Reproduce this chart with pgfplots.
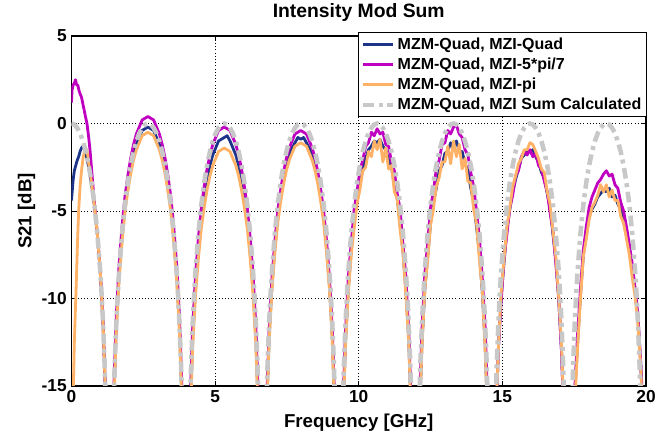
\documentclass[border=0pt]{standalone}
\usepackage{pgfplots}
\pgfplotsset{compat=1.18}
\usepackage{fontspec}
\setmainfont{Liberation Sans}
\definecolor{cnavy}{RGB}{28,52,138}
\definecolor{cmag}{RGB}{192,0,192}
\definecolor{corange}{RGB}{255,178,102}
\definecolor{cgray}{RGB}{200,200,200}
\begin{document}
\begin{tikzpicture}
\begin{axis}[
  scale only axis, width=430.9pt, height=262.5pt,
  xmin=0, xmax=20, ymin=-15, ymax=5,
  xtick={0,5,10,15,20}, ytick={-15,-10,-5,0,5},
  grid=major, grid style={black, dotted, line width=0.6pt},
  tick align=inside, major tick length=4pt,
  axis line style={black, line width=0.8pt},
  every tick/.style={black, line width=0.6pt},
  /pgf/number format/assume math mode=true,
  ticklabel style={font=\bfseries\fontsize{13}{13}\selectfont},
  xlabel={Frequency [GHz]}, ylabel={S21 [dB]},
  label style={font=\bfseries\fontsize{14}{15}\selectfont},
  xlabel style={at={(axis description cs:0.5,-0.12)}, anchor=base},
  ylabel style={at={(axis description cs:-0.078,0.5)}, anchor=center},
  title={Intensity Mod Sum},
  title style={font=\bfseries\fontsize{14.5}{15}\selectfont, at={(axis description cs:0.5,1.029)}, anchor=base},
  legend style={at={(1.002,1.011)}, anchor=north east, draw=black, line width=0.8pt, fill=white,
    font=\bfseries\fontsize{12}{13.5}\selectfont, row sep=0.8pt, inner sep=2pt},
  legend cell align=left,
  legend image code/.code={\draw[#1] (0pt,0pt) -- (22pt,0pt);},
]
\coordinate (sw) at (rel axis cs:0,0);
% MZM-Quad, MZI-Quad
\addplot[cnavy, line width=2.1pt, line join=round] coordinates {
(0,-4.4)(0.03,-3.8)(0.06,-3.2)(0.1,-2.7)(0.15,-2.4)(0.2,-2.1)(0.25,-1.9)(0.3,-1.6)(0.35,-1.4)(0.4,-1.3)(0.45,-1.4)(0.5,-1.7)(0.6,-2.5)(0.7,-3.5)(0.8,-4.7)(0.9,-6.3)(1.0,-8.4)(1.1,-11.4)(1.2,-16.3)(1.3,-29)
(1.36,-29)(1.46,-16.5)(1.56,-11.6)(1.66,-8.6)(1.76,-6.5)(1.86,-4.8)(1.96,-3.6)(2.06,-2.6)(2.16,-1.8)(2.26,-1.2)(2.36,-0.8)(2.46,-0.4)(2.56,-0.3)(2.66,-0.2)(2.76,-0.3)(2.86,-0.4)(2.96,-0.8)(3.06,-1.2)(3.16,-1.8)(3.26,-2.6)(3.36,-3.6)(3.46,-4.8)(3.56,-6.5)(3.66,-8.6)(3.76,-11.6)(3.86,-16.5)(3.96,-29)
(4.02,-29)(4.12,-17.1)(4.22,-12.2)(4.32,-9.2)(4.42,-7.1)(4.52,-5.4)(4.62,-4.2)(4.72,-3.2)(4.82,-2.4)(4.92,-1.8)(5.02,-1.4)(5.12,-1.0)(5.22,-0.9)(5.32,-0.8)(5.42,-0.7)(5.52,-1.0)(5.62,-1.4)(5.72,-1.8)(5.82,-2.4)(5.92,-3.2)(6.02,-4.2)(6.12,-5.4)(6.22,-7.1)(6.32,-9.2)(6.42,-12.2)(6.52,-17.1)(6.62,-29)
(6.68,-29)(6.78,-17.1)(6.88,-12.2)(6.98,-9.2)(7.08,-7.1)(7.18,-5.4)(7.28,-4.2)(7.38,-3.2)(7.48,-2.4)(7.58,-1.8)(7.68,-1.4)(7.78,-1.1)(7.88,-0.8)(7.98,-0.9)(8.08,-0.8)(8.18,-1.1)(8.28,-1.4)(8.38,-1.9)(8.48,-2.4)(8.58,-3.2)(8.68,-4.2)(8.78,-5.4)(8.88,-7.1)(8.98,-9.2)(9.08,-12.2)(9.18,-17.1)(9.28,-29)
(9.34,-29)(9.44,-17.3)(9.54,-12.4)(9.64,-9.4)(9.74,-7.2)(9.84,-5.5)(9.94,-4.5)(10.04,-3.3)(10.14,-2.7)(10.24,-2.0)(10.34,-1.5)(10.44,-1.3)(10.54,-1.0)(10.64,-1.1)(10.74,-0.9)(10.84,-1.3)(10.94,-1.5)(11.04,-2.1)(11.14,-2.5)(11.24,-3.5)(11.34,-4.3)(11.44,-5.7)(11.54,-7.3)(11.64,-9.5)(11.74,-12.3)(11.84,-17.3)(11.94,-29)
(12.00,-29)(12.10,-17.4)(12.20,-12.6)(12.30,-9.5)(12.40,-7.6)(12.50,-5.7)(12.60,-4.5)(12.70,-3.7)(12.80,-2.7)(12.90,-2.4)(13.00,-1.7)(13.10,-1.6)(13.20,-1.1)(13.30,-1.4)(13.40,-1.0)(13.50,-1.6)(13.60,-1.6)(13.70,-2.3)(13.80,-2.7)(13.90,-3.7)(14.00,-4.5)(14.10,-5.9)(14.20,-7.4)(14.30,-9.6)(14.40,-12.6)(14.50,-17.5)(14.60,-29)
(14.66,-29)(14.76,-17.8)(14.86,-12.9)(14.96,-9.9)(15.06,-7.9)(15.16,-6.0)(15.26,-4.9)(15.36,-3.9)(15.46,-3.2)(15.56,-2.6)(15.66,-2.0)(15.76,-1.8)(15.86,-1.6)(15.96,-1.6)(16.06,-1.5)(16.16,-1.9)(16.26,-2.2)(16.36,-2.8)(16.46,-3.1)(16.56,-4.0)(16.66,-4.8)(16.76,-6.3)(16.86,-7.8)(16.96,-10.0)(17.06,-13.0)(17.16,-17.8)(17.26,-29)
(17.32,-29)(17.42,-20)(17.52,-15.5)(17.62,-12.5)(17.72,-9.8)(17.82,-7.5)(17.92,-6.4)(18.02,-5.3)(18.12,-4.9)(18.22,-4.6)(18.32,-4.2)(18.42,-4.0)(18.52,-3.8)(18.62,-3.9)(18.72,-3.7)(18.82,-4.2)(18.92,-4.1)(19.02,-4.6)(19.12,-4.9)(19.22,-5.6)(19.32,-6.3)(19.42,-7.2)(19.52,-8.3)(19.62,-9.6)(19.72,-11.2)(19.82,-13.8)(19.87,-15.5)(19.92,-20)
};
\addlegendentry{MZM-Quad, MZI-Quad}
% MZM-Quad, MZI-5*pi/7
\addplot[cmag, line width=2.1pt, line join=round] coordinates {
(0,1.2)(0.02,1.9)(0.06,2.2)(0.1,2.3)(0.14,2.5)(0.18,2.2)(0.22,2.2)(0.26,1.9)(0.3,1.7)(0.35,1.5)(0.4,1.1)(0.45,0.7)(0.5,0.3)(0.54,0)(0.6,-0.8)(0.65,-1.6)(0.7,-2.6)(0.75,-3.6)(0.8,-4.6)(0.9,-6.3)(1.0,-8.4)(1.1,-11.4)(1.2,-16.3)(1.3,-29)
(1.36,-29)(1.46,-15.9)(1.56,-11.0)(1.66,-8.0)(1.76,-5.9)(1.86,-4.2)(1.96,-3.0)(2.06,-2.0)(2.16,-1.2)(2.26,-0.6)(2.36,-0.2)(2.46,0.2)(2.56,0.3)(2.66,0.4)(2.76,0.3)(2.86,0.2)(2.96,-0.2)(3.06,-0.6)(3.16,-1.2)(3.26,-2.0)(3.36,-3.0)(3.46,-4.2)(3.56,-5.9)(3.66,-8.0)(3.76,-11.0)(3.86,-15.9)(3.96,-29)
(4.02,-29)(4.12,-16.5)(4.22,-11.6)(4.32,-8.6)(4.42,-6.5)(4.52,-4.8)(4.62,-3.6)(4.72,-2.6)(4.82,-1.8)(4.92,-1.2)(5.02,-0.8)(5.12,-0.4)(5.22,-0.3)(5.32,-0.2)(5.42,-0.3)(5.52,-0.4)(5.62,-0.8)(5.72,-1.2)(5.82,-1.8)(5.92,-2.6)(6.02,-3.6)(6.12,-4.8)(6.22,-6.5)(6.32,-8.6)(6.42,-11.6)(6.52,-16.5)(6.62,-29)
(6.68,-29)(6.78,-16.7)(6.88,-11.8)(6.98,-8.8)(7.08,-6.7)(7.18,-5.0)(7.28,-3.8)(7.38,-2.8)(7.48,-2.0)(7.58,-1.4)(7.68,-1.0)(7.78,-0.6)(7.88,-0.5)(7.98,-0.4)(8.08,-0.5)(8.18,-0.6)(8.28,-1.0)(8.38,-1.4)(8.48,-2.0)(8.58,-2.8)(8.68,-3.8)(8.78,-5.0)(8.88,-6.7)(8.98,-8.8)(9.08,-11.8)(9.18,-16.7)(9.28,-29)
(9.34,-29)(9.44,-16.6)(9.54,-11.9)(9.64,-8.7)(9.74,-6.8)(9.84,-4.9)(9.94,-3.9)(10.04,-2.7)(10.14,-2.1)(10.24,-1.3)(10.34,-1.1)(10.44,-0.5)(10.54,-0.7)(10.64,-0.3)(10.74,-0.6)(10.84,-0.5)(10.94,-1.2)(11.04,-1.3)(11.14,-2.2)(11.24,-2.7)(11.34,-4.0)(11.44,-4.9)(11.54,-6.9)(11.64,-8.7)(11.74,-11.9)(11.84,-16.6)(11.94,-29)
(12.00,-29)(12.10,-16.6)(12.20,-11.8)(12.30,-8.6)(12.40,-6.8)(12.50,-4.8)(12.60,-3.9)(12.70,-2.6)(12.80,-2.1)(12.90,-1.2)(13.00,-1.1)(13.10,-0.4)(13.20,-0.6)(13.30,-0.2)(13.40,-0.1)(13.50,-0.6)(13.60,-0.8)(13.70,-1.5)(13.80,-1.8)(13.90,-2.8)(14.00,-3.6)(14.10,-5.0)(14.20,-6.5)(14.30,-8.8)(14.40,-11.6)(14.50,-16.7)(14.60,-29)
(14.66,-29)(14.76,-17.9)(14.86,-12.9)(14.96,-10.1)(15.06,-7.7)(15.16,-6.3)(15.26,-4.8)(15.36,-4.1)(15.46,-3.0)(15.56,-2.7)(15.66,-1.9)(15.76,-1.6)(15.86,-1.8)(15.96,-1.5)(16.06,-1.9)(16.16,-1.7)(16.26,-2.4)(16.36,-2.6)(16.46,-3.3)(16.56,-3.9)(16.66,-5.1)(16.76,-6.1)(16.86,-8.0)(16.96,-9.9)(17.06,-13.1)(17.16,-17.8)(17.26,-29)
(17.32,-29)(17.42,-20)(17.52,-15.2)(17.62,-12.0)(17.72,-9.4)(17.82,-7.2)(17.92,-5.9)(18.02,-4.8)(18.12,-4.2)(18.22,-3.8)(18.32,-3.4)(18.42,-3.2)(18.52,-2.9)(18.62,-2.7)(18.72,-3.0)(18.82,-2.9)(18.92,-3.5)(19.02,-3.7)(19.12,-4.5)(19.22,-5.0)(19.32,-5.9)(19.42,-6.9)(19.52,-8.0)(19.62,-9.4)(19.72,-11.0)(19.82,-13.8)(19.87,-16)(19.92,-20)
};
\addlegendentry{MZM-Quad, MZI-5*pi/7}
% MZM-Quad, MZI-pi
\addplot[corange, line width=2.1pt, line join=round] coordinates {
(0.03,-18)(0.06,-15.5)(0.1,-12.5)(0.14,-10.5)(0.17,-9)(0.21,-6.8)(0.25,-5.0)(0.3,-3.6)(0.35,-2.7)(0.4,-2.0)(0.45,-1.6)(0.5,-1.4)(0.55,-1.6)(0.6,-2.3)(0.7,-3.4)(0.8,-4.7)(0.9,-6.3)(1.0,-8.4)(1.1,-11.4)(1.2,-16.3)(1.3,-29)
(1.36,-29)(1.46,-16.8)(1.56,-11.9)(1.66,-8.9)(1.76,-6.8)(1.86,-5.1)(1.96,-3.9)(2.06,-2.9)(2.16,-2.1)(2.26,-1.5)(2.36,-1.1)(2.46,-0.7)(2.56,-0.6)(2.66,-0.5)(2.76,-0.6)(2.86,-0.7)(2.96,-1.1)(3.06,-1.5)(3.16,-2.1)(3.26,-2.9)(3.36,-3.9)(3.46,-5.1)(3.56,-6.8)(3.66,-8.9)(3.76,-11.9)(3.86,-16.8)(3.96,-29)
(4.02,-29)(4.12,-17.7)(4.22,-12.8)(4.32,-9.8)(4.42,-7.7)(4.52,-6.0)(4.62,-4.8)(4.72,-3.8)(4.82,-3.0)(4.92,-2.4)(5.02,-2.0)(5.12,-1.6)(5.22,-1.5)(5.32,-1.4)(5.42,-1.5)(5.52,-1.6)(5.62,-2.0)(5.72,-2.4)(5.82,-3.0)(5.92,-3.8)(6.02,-4.8)(6.12,-6.0)(6.22,-7.7)(6.32,-9.8)(6.42,-12.8)(6.52,-17.7)(6.62,-29)
(6.68,-29)(6.78,-17.4)(6.88,-12.5)(6.98,-9.5)(7.08,-7.4)(7.18,-5.7)(7.28,-4.5)(7.38,-3.5)(7.48,-2.7)(7.58,-2.1)(7.68,-1.7)(7.78,-1.3)(7.88,-1.2)(7.98,-1.1)(8.08,-1.2)(8.18,-1.3)(8.28,-1.7)(8.38,-2.1)(8.48,-2.7)(8.58,-3.5)(8.68,-4.5)(8.78,-5.7)(8.88,-7.4)(8.98,-9.5)(9.08,-12.5)(9.18,-17.4)(9.28,-29)
(9.34,-29)(9.44,-17.5)(9.54,-12.7)(9.64,-9.6)(9.74,-7.5)(9.84,-6.0)(9.94,-4.6)(10.04,-3.8)(10.14,-2.7)(10.24,-2.5)(10.34,-1.6)(10.44,-1.9)(10.54,-1.0)(10.64,-1.5)(10.74,-0.9)(10.84,-2.2)(10.94,-1.4)(11.04,-2.6)(11.14,-2.4)(11.24,-3.9)(11.34,-4.3)(11.44,-6.1)(11.54,-7.4)(11.64,-9.8)(11.74,-12.5)(11.84,-17.6)(11.94,-29)
(12.00,-29)(12.10,-17.6)(12.20,-12.8)(12.30,-9.5)(12.40,-7.8)(12.50,-5.8)(12.60,-4.9)(12.70,-3.6)(12.80,-3.1)(12.90,-2.2)(13.00,-2.2)(13.10,-1.3)(13.20,-2.3)(13.30,-1.0)(13.40,-1.9)(13.50,-1.2)(13.60,-2.6)(13.70,-2.0)(13.80,-3.3)(13.90,-3.4)(14.00,-4.9)(14.10,-5.7)(14.20,-7.8)(14.30,-9.5)(14.40,-12.9)(14.50,-17.4)(14.60,-29)
(14.66,-29)(14.76,-17.5)(14.86,-12.9)(14.96,-9.6)(15.06,-7.7)(15.16,-5.9)(15.26,-4.8)(15.36,-3.6)(15.46,-3.0)(15.56,-2.3)(15.66,-2.0)(15.76,-1.5)(15.86,-1.5)(15.96,-1.1)(16.06,-1.2)(16.16,-1.6)(16.26,-2.0)(16.36,-2.6)(16.46,-2.8)(16.56,-3.9)(16.66,-4.6)(16.76,-6.1)(16.86,-7.6)(16.96,-9.9)(17.06,-12.6)(17.16,-17.6)(17.26,-29)
(17.32,-29)(17.42,-20)(17.52,-16)(17.62,-12.8)(17.72,-10.0)(17.82,-7.6)(17.92,-6.6)(18.02,-5.5)(18.12,-4.8)(18.22,-4.5)(18.32,-4.1)(18.42,-3.5)(18.52,-3.9)(18.62,-3.5)(18.72,-4.2)(18.82,-3.8)(18.92,-4.4)(19.02,-4.4)(19.12,-5.3)(19.22,-5.7)(19.32,-6.6)(19.42,-7.5)(19.52,-8.8)(19.62,-9.9)(19.72,-11.5)(19.82,-14.0)(19.87,-16.5)(19.92,-21)
};
\addlegendentry{MZM-Quad, MZI-pi}
% MZM-Quad, MZI Sum Calculated
\addplot[cgray, line width=3.4pt, dash pattern=on 8pt off 3.5pt on 3pt off 3.5pt] coordinates {
(0,0)(0.1,-0.06)(0.2,-0.25)(0.3,-0.56)(0.4,-1.01)(0.5,-1.61)(0.6,-2.39)(0.7,-3.38)(0.8,-4.64)(0.9,-6.26)(1.0,-8.39)(1.05,-9.77)(1.1,-11.42)(1.15,-13.52)(1.2,-16.3)(1.25,-20.5)(1.3,-29)
(1.36,-29)(1.41,-20.5)(1.46,-16.3)(1.51,-13.52)(1.56,-11.42)(1.61,-9.77)(1.66,-8.39)(1.76,-6.26)(1.86,-4.64)(1.96,-3.38)(2.06,-2.39)(2.16,-1.61)(2.26,-1.01)(2.36,-0.56)(2.46,-0.25)(2.56,-0.06)(2.66,0)(2.76,-0.06)(2.86,-0.25)(2.96,-0.56)(3.06,-1.01)(3.16,-1.61)(3.26,-2.39)(3.36,-3.38)(3.46,-4.64)(3.56,-6.26)(3.66,-8.39)(3.71,-9.77)(3.76,-11.42)(3.81,-13.52)(3.86,-16.3)(3.91,-20.5)(3.96,-29)
(4.02,-29)(4.07,-20.5)(4.12,-16.3)(4.17,-13.52)(4.22,-11.42)(4.27,-9.77)(4.32,-8.39)(4.42,-6.26)(4.52,-4.64)(4.62,-3.38)(4.72,-2.39)(4.82,-1.61)(4.92,-1.01)(5.02,-0.56)(5.12,-0.25)(5.22,-0.06)(5.32,0)(5.42,-0.06)(5.52,-0.25)(5.62,-0.56)(5.72,-1.01)(5.82,-1.61)(5.92,-2.39)(6.02,-3.38)(6.12,-4.64)(6.22,-6.26)(6.32,-8.39)(6.37,-9.77)(6.42,-11.42)(6.47,-13.52)(6.52,-16.3)(6.57,-20.5)(6.62,-29)
(6.68,-29)(6.73,-20.5)(6.78,-16.3)(6.83,-13.52)(6.88,-11.42)(6.93,-9.77)(6.98,-8.39)(7.08,-6.26)(7.18,-4.64)(7.28,-3.38)(7.38,-2.39)(7.48,-1.61)(7.58,-1.01)(7.68,-0.56)(7.78,-0.25)(7.88,-0.06)(7.98,0)(8.08,-0.06)(8.18,-0.25)(8.28,-0.56)(8.38,-1.01)(8.48,-1.61)(8.58,-2.39)(8.68,-3.38)(8.78,-4.64)(8.88,-6.26)(8.98,-8.39)(9.03,-9.77)(9.08,-11.42)(9.13,-13.52)(9.18,-16.3)(9.23,-20.5)(9.28,-29)
(9.34,-29)(9.39,-20.5)(9.44,-16.3)(9.49,-13.52)(9.54,-11.42)(9.59,-9.77)(9.64,-8.39)(9.74,-6.26)(9.84,-4.64)(9.94,-3.38)(10.04,-2.39)(10.14,-1.61)(10.24,-1.01)(10.34,-0.56)(10.44,-0.25)(10.54,-0.06)(10.64,0)(10.74,-0.06)(10.84,-0.25)(10.94,-0.56)(11.04,-1.01)(11.14,-1.61)(11.24,-2.39)(11.34,-3.38)(11.44,-4.64)(11.54,-6.26)(11.64,-8.39)(11.69,-9.77)(11.74,-11.42)(11.79,-13.52)(11.84,-16.3)(11.89,-20.5)(11.94,-29)
(12.00,-29)(12.05,-20.5)(12.10,-16.3)(12.15,-13.52)(12.20,-11.42)(12.25,-9.77)(12.30,-8.39)(12.40,-6.26)(12.50,-4.64)(12.60,-3.38)(12.70,-2.39)(12.80,-1.61)(12.90,-1.01)(13.00,-0.56)(13.10,-0.25)(13.20,-0.06)(13.30,0)(13.40,-0.06)(13.50,-0.25)(13.60,-0.56)(13.70,-1.01)(13.80,-1.61)(13.90,-2.39)(14.00,-3.38)(14.10,-4.64)(14.20,-6.26)(14.30,-8.39)(14.35,-9.77)(14.40,-11.42)(14.45,-13.52)(14.50,-16.3)(14.55,-20.5)(14.60,-29)
(14.66,-29)(14.71,-20.5)(14.76,-16.3)(14.81,-13.52)(14.86,-11.42)(14.91,-9.77)(14.96,-8.39)(15.06,-6.26)(15.16,-4.64)(15.26,-3.38)(15.36,-2.39)(15.46,-1.61)(15.56,-1.01)(15.66,-0.56)(15.76,-0.25)(15.86,-0.06)(15.96,0)(16.06,-0.06)(16.16,-0.25)(16.26,-0.56)(16.36,-1.01)(16.46,-1.61)(16.56,-2.39)(16.66,-3.38)(16.76,-4.64)(16.86,-6.26)(16.96,-8.39)(17.01,-9.77)(17.06,-11.42)(17.11,-13.52)(17.16,-16.3)(17.21,-20.5)(17.26,-29)
(17.32,-29)(17.37,-20.5)(17.42,-16.3)(17.47,-13.52)(17.52,-11.42)(17.57,-9.77)(17.62,-8.39)(17.72,-6.26)(17.82,-4.64)(17.92,-3.38)(18.02,-2.39)(18.12,-1.61)(18.22,-1.01)(18.32,-0.56)(18.42,-0.25)(18.52,-0.06)(18.62,0)(18.72,-0.06)(18.82,-0.25)(18.92,-0.56)(19.02,-1.01)(19.12,-1.61)(19.22,-2.39)(19.32,-3.38)(19.42,-4.64)(19.52,-6.26)(19.62,-8.39)(19.67,-9.77)(19.72,-11.42)(19.77,-13.52)(19.82,-16.3)(19.87,-20.5)(19.92,-29)
};
\addlegendentry{MZM-Quad, MZI Sum Calculated}
\end{axis}
\pgfresetboundingbox
\path[use as bounding box] (sw) ++(-53.6pt,-36pt) rectangle ++(492.75pt,325.5pt);
\end{tikzpicture}
\end{document}
